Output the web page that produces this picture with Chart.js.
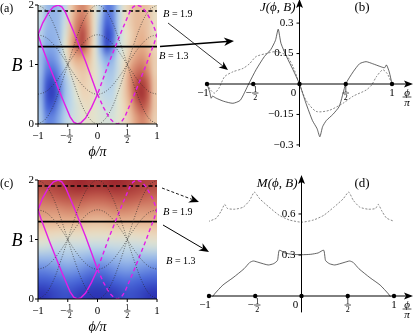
<!DOCTYPE html>
<html lang="en">
<head>
<meta charset="UTF-8">
<title>J and M maps</title>
<script src="https://cdn.jsdelivr.net/npm/chart.js"></script>
<style>
  body { margin: 0; background: #fff; }
  #wrap { position: relative; width: 415px; height: 333px; }
  #wrap canvas { position: absolute; left: 0; top: 0; }
</style>
</head>
<body>
<div id="wrap">
  <canvas id="pa" width="415" height="333"></canvas>
  <canvas id="pc" width="415" height="333"></canvas>
  <canvas id="pb" width="415" height="333"></canvas>
  <canvas id="pd" width="415" height="333"></canvas>
</div>
<script>
const W = 415, H = 333;
const SERIF = '"Liberation Serif", "DejaVu Serif", serif';

// ---- data ----
// dotted guide curves in (a) and (c)
const guidePhi = [-1, -0.875, -0.75, -0.625, -0.5, -0.375, -0.25, -0.125, 0, 0.125, 0.25, 0.375, 0.5, 0.625, 0.75, 0.875, 1];
const guideTop = [0, 0.08, 0.29, 0.62, 1, 1.38, 1.71, 1.92, 2, 1.92, 1.71, 1.38, 1, 0.62, 0.29, 0.08, 0];
const guideBottom = [2, 1.92, 1.71, 1.38, 1, 0.62, 0.29, 0.08, 0, 0.08, 0.29, 0.62, 1, 1.38, 1.71, 1.92, 2];
const guideInnerLow = [1.5, 1.46, 1.35, 1.19, 1, 0.81, 0.65, 0.54, 0.5, 0.54, 0.65, 0.81, 1, 1.19, 1.35, 1.46, 1.5];
const guideInnerHigh = [0.5, 0.54, 0.65, 0.81, 1, 1.19, 1.35, 1.46, 1.5, 1.46, 1.35, 1.19, 1, 0.81, 0.65, 0.54, 0.5];

// magenta loops
const loopSolidPhi = [0, -0.1, -0.2, -0.28, -0.34, -0.4, -0.46, -0.6, -0.8, -0.95, -1, -0.92, -0.82, -0.74, -0.66, -0.6, -0.54, -0.4, -0.2, 0];
const loopSolidB   = [0.5, 0.28, 0.1, 0.02, 0, 0.03, 0.12, 0.45, 0.95, 1.35, 1.5, 1.7, 1.88, 1.97, 2, 1.97, 1.88, 1.55, 1.05, 0.5];
const loopDashPhi  = [0, 0.1, 0.2, 0.28, 0.34, 0.4, 0.46, 0.6, 0.8, 0.95, 1, 0.92, 0.82, 0.74, 0.66, 0.6, 0.54, 0.4, 0.2, 0];
const loopDashB    = [0.5, 0.28, 0.1, 0.02, 0, 0.03, 0.12, 0.45, 0.95, 1.35, 1.5, 1.7, 1.88, 1.97, 2, 1.97, 1.88, 1.55, 1.05, 0.5];

const cutHigh = 1.9, cutLow = 1.3;

// heat map (a): rows B = 1.9 ... 0.1, columns phi = -0.95 ... 0.95, value scaled to [-1, 1]
const heatJ = [
  [-0.1, -0.3, -0.35, -0.3, -0.15, 0.2, 0.45, 0.55, 0.4, 0.05, -0.2, -0.6, -0.55, -0.2, 0.05, 0.2, 0.3, 0.3, 0.25, 0.1],
  [-0.15, -0.3, -0.35, -0.3, -0.1, 0.25, 0.55, 0.65, 0.45, 0.05, -0.3, -0.7, -0.6, -0.2, 0.05, 0.2, 0.3, 0.3, 0.25, 0.1],
  [-0.2, -0.35, -0.35, -0.3, -0.05, 0.3, 0.6, 0.8, 0.5, 0.05, -0.35, -0.85, -0.7, -0.2, 0, 0.15, 0.3, 0.35, 0.25, 0.1],
  [-0.25, -0.4, -0.4, -0.3, 0, 0.35, 0.65, 0.75, 0.45, 0.05, -0.35, -0.8, -0.6, -0.15, 0, 0.2, 0.35, 0.4, 0.3, 0.15],
  [-0.3, -0.5, -0.5, -0.35, -0.05, 0.25, 0.4, 0.4, 0.3, 0.05, -0.2, -0.4, -0.35, -0.1, 0.05, 0.3, 0.45, 0.5, 0.4, 0.2],
  [-0.3, -0.6, -0.65, -0.5, -0.2, 0.05, 0.2, 0.25, 0.2, 0.05, -0.1, -0.25, -0.25, -0.1, 0.15, 0.45, 0.6, 0.65, 0.5, 0.2],
  [-0.35, -0.75, -0.85, -0.6, -0.3, -0.1, 0.1, 0.2, 0.15, 0.05, -0.1, -0.2, -0.2, -0.05, 0.2, 0.5, 0.75, 0.85, 0.65, 0.25],
  [-0.35, -0.8, -0.9, -0.65, -0.3, -0.15, 0, 0.15, 0.15, 0.05, -0.1, -0.15, -0.15, 0, 0.2, 0.45, 0.8, 0.9, 0.7, 0.25],
  [-0.3, -0.7, -0.75, -0.5, -0.25, -0.15, -0.05, 0.05, 0.1, 0.03, -0.05, -0.1, -0.1, 0, 0.15, 0.35, 0.6, 0.75, 0.6, 0.25],
  [-0.25, -0.55, -0.55, -0.4, -0.2, -0.1, -0.05, 0, 0.05, 0.02, -0.03, -0.05, -0.05, 0, 0.1, 0.25, 0.45, 0.55, 0.45, 0.2]
];
// heat map (c): rows B = 1.9 ... 0.1, columns phi = -0.9 ... 0.9
const heatM = [
  [0.8, 0.85, 0.9, 0.95, 0.9, 0.9, 0.95, 0.9, 0.85, 0.8],
  [0.65, 0.7, 0.75, 0.75, 0.7, 0.7, 0.75, 0.75, 0.7, 0.65],
  [0.5, 0.5, 0.55, 0.55, 0.5, 0.5, 0.55, 0.55, 0.5, 0.5],
  [0.35, 0.35, 0.35, 0.35, 0.3, 0.3, 0.35, 0.35, 0.35, 0.35],
  [0.15, 0.12, 0.1, 0.1, 0.08, 0.08, 0.1, 0.1, 0.12, 0.15],
  [-0.05, -0.1, -0.1, -0.1, -0.12, -0.12, -0.1, -0.1, -0.1, -0.05],
  [-0.3, -0.3, -0.25, -0.3, -0.35, -0.35, -0.3, -0.25, -0.3, -0.3],
  [-0.55, -0.5, -0.45, -0.5, -0.6, -0.6, -0.5, -0.45, -0.5, -0.55],
  [-0.75, -0.7, -0.65, -0.7, -0.8, -0.8, -0.7, -0.65, -0.7, -0.75],
  [-0.95, -0.85, -0.8, -0.9, -0.95, -0.95, -0.9, -0.8, -0.85, -0.95]
];

// (b) current J(phi, B)
const jPhi13 = [-1, -0.97, -0.955, -0.94, -0.9, -0.82, -0.72, -0.64, -0.55, -0.47, -0.38, -0.31, -0.26, -0.23, -0.2, -0.14, -0.07, 0, 0.07, 0.14, 0.19, 0.22, 0.25, 0.29, 0.36, 0.43, 0.5, 0.58, 0.65, 0.72, 0.79, 0.88, 0.92, 0.94, 0.97, 1];
const jVal13 = [0, -0.04, -0.07, -0.06, -0.07, -0.085, -0.095, -0.08, 0, 0.07, 0.135, 0.17, 0.215, 0.27, 0.2, 0.135, 0.07, 0, -0.095, -0.18, -0.22, -0.26, -0.21, -0.18, -0.15, -0.11, 0, 0.06, 0.1, 0.11, 0.1, 0.085, 0.08, 0.094, 0.06, 0];
const jPhi19 = [-1, -0.96, -0.92, -0.87, -0.81, -0.72, -0.61, -0.54, -0.47, -0.36, -0.25, -0.14, -0.07, 0, 0.07, 0.18, 0.32, 0.47, 0.58, 0.72, 0.78, 0.83, 0.9, 0.95, 1];
const jVal19 = [0, -0.03, -0.045, -0.02, 0.036, 0.06, 0.077, 0.1, 0.135, 0.15, 0.16, 0.14, 0.085, 0, -0.08, -0.135, -0.13, -0.095, -0.06, -0.03, -0.005, 0.035, 0.07, 0.05, 0];

// (d) M(phi, B)
const mPhi13 = [-0.96, -0.94, -0.85, -0.74, -0.62, -0.56, -0.52, -0.46, -0.36, -0.3, -0.26, -0.24, -0.18, -0.1, 0, 0.1, 0.18, 0.24, 0.26, 0.3, 0.36, 0.46, 0.52, 0.56, 0.62, 0.74, 0.85, 0.94, 0.96];
const mVal13 = [-0.005, 0.015, 0.08, 0.134, 0.2, 0.245, 0.256, 0.245, 0.227, 0.237, 0.26, 0.335, 0.315, 0.305, 0.302, 0.305, 0.315, 0.335, 0.26, 0.237, 0.227, 0.245, 0.256, 0.245, 0.2, 0.134, 0.08, 0.015, -0.005];
const mPhi19 = [-1.01, -0.92, -0.87, -0.83, -0.8, -0.72, -0.63, -0.56, -0.51, -0.45, -0.35, -0.24, -0.13, 0, 0.13, 0.24, 0.35, 0.45, 0.51, 0.56, 0.63, 0.72, 0.8, 0.83, 0.87, 0.92, 1.01];
const mVal19 = [0.544, 0.57, 0.62, 0.67, 0.64, 0.635, 0.65, 0.7, 0.76, 0.71, 0.65, 0.59, 0.556, 0.54, 0.556, 0.59, 0.65, 0.71, 0.76, 0.7, 0.65, 0.635, 0.64, 0.67, 0.62, 0.57, 0.544];

// ticks
const phiTicks = [-1, -0.5, 0, 0.5, 1];
const phiTickText = ['−1', '−1/2', '0', '1/2', '1'];
const bTicks = [0, 1, 2];
const jTicks = [0.3, 0.15, -0.15, -0.3];
const jTickText = ['0.3', '0.15', '−0.15', '−0.3'];
const mTicks = [0.6, 0.3];
const mTickText = ['0.6', '0.3'];

// ---- helpers ----
const stops = [
  [-1, [40, 45, 175]], [-0.7, [70, 100, 215]], [-0.4, [135, 170, 232]], [-0.15, [190, 215, 232]],
  [0, [225, 228, 208]], [0.15, [236, 214, 186]], [0.4, [228, 170, 135]], [0.7, [195, 95, 80]], [1, [150, 30, 40]]
];
function cmap(v) {
  for (let i = 1; i < stops.length; i++) {
    if (v <= stops[i][0]) {
      const [v0, c0] = stops[i - 1], [v1, c1] = stops[i];
      const t = Math.max(0, (v - v0) / (v1 - v0));
      return c0.map((c, k) => Math.round(c + (c1[k] - c) * t));
    }
  }
  return stops[stops.length - 1][1];
}

function drawHeat(chart, grid) {
  const ctx = chart.ctx, xs = chart.scales.x, ys = chart.scales.y;
  const rows = grid.length, cols = grid[0].length;
  const off = document.createElement('canvas');
  off.width = cols; off.height = rows;
  const octx = off.getContext('2d');
  const img = octx.createImageData(cols, rows);
  grid.forEach((row, r) => row.forEach((v, c) => {
    const col = cmap(v), i = (r * cols + c) * 4;
    img.data[i] = col[0]; img.data[i + 1] = col[1]; img.data[i + 2] = col[2]; img.data[i + 3] = 255;
  }));
  octx.putImageData(img, 0, 0);
  const x0 = xs.getPixelForValue(-1), x1 = xs.getPixelForValue(1);
  const y0 = ys.getPixelForValue(2), y1 = ys.getPixelForValue(0);
  ctx.save();
  ctx.imageSmoothingEnabled = true;
  ctx.imageSmoothingQuality = 'high';
  ctx.drawImage(off, x0, y0, x1 - x0, y1 - y0);
  ctx.restore();
}

function text(ctx, s, x, y, size, align, italic) {
  ctx.font = (italic ? 'italic ' : '') + size + 'px ' + SERIF;
  ctx.textAlign = align || 'center';
  ctx.textBaseline = 'middle';
  ctx.fillStyle = '#000';
  ctx.fillText(s, x, y);
}

// "B = 1.9" style label: italic B, upright rest, starting at x
function cutLabel(ctx, value, x, y) {
  text(ctx, 'B', x, y, 10.5, 'left', true);
  ctx.font = 'italic 10.5px ' + SERIF;
  const w = ctx.measureText('B').width;
  text(ctx, ' = ' + value, x + w, y, 10, 'left', false);
}

// stacked fraction, y is the bar line
function frac(ctx, num, den, x, y, size, italic, sign) {
  ctx.fillStyle = '#000';
  ctx.font = (italic ? 'italic ' : '') + size + 'px ' + SERIF;
  ctx.textAlign = 'center';
  ctx.textBaseline = 'alphabetic';
  ctx.fillText(num, x, y - 1.5);
  ctx.fillText(den, x, y + size * 0.85);
  ctx.beginPath();
  ctx.moveTo(x - size * 0.4, y); ctx.lineTo(x + size * 0.4, y);
  ctx.lineWidth = 0.7; ctx.strokeStyle = '#000'; ctx.stroke();
  if (sign) text(ctx, '−', x - size * 0.45, y, size + 3, 'right');
}

function tickLabel(ctx, s, x, y, size) {
  if (s.includes('/')) {
    const neg = s.startsWith('−');
    const [n, d] = s.replace('−', '').split('/');
    frac(ctx, n, d, x + (neg ? 2 : 0), y, size - 3, false, neg);
  } else {
    text(ctx, s, x, y, size);
  }
}

function arrow(ctx, x0, y0, x1, y1, dash, lw, head) {
  const a = Math.atan2(y1 - y0, x1 - x0);
  ctx.save();
  ctx.strokeStyle = '#000'; ctx.fillStyle = '#000'; ctx.lineWidth = lw;
  ctx.setLineDash(dash);
  ctx.beginPath();
  ctx.moveTo(x0, y0);
  ctx.lineTo(x1 - head * 0.7 * Math.cos(a), y1 - head * 0.7 * Math.sin(a));
  ctx.stroke();
  ctx.setLineDash([]);
  const w = head * 0.42;
  ctx.beginPath();
  ctx.moveTo(x1, y1);
  ctx.lineTo(x1 - head * Math.cos(a) + w * Math.sin(a), y1 - head * Math.sin(a) - w * Math.cos(a));
  ctx.lineTo(x1 - head * 0.7 * Math.cos(a), y1 - head * 0.7 * Math.sin(a));
  ctx.lineTo(x1 - head * Math.cos(a) - w * Math.sin(a), y1 - head * Math.sin(a) + w * Math.cos(a));
  ctx.closePath();
  ctx.fill();
  ctx.restore();
}

function series(xs, ys, color, width, dash, tension) {
  return {
    data: xs.map((x, i) => ({ x: x, y: ys[i] })),
    showLine: true, borderColor: color, borderWidth: width,
    borderDash: dash || [], tension: tension || 0,
    pointRadius: 0, fill: false
  };
}

function makePanel(id, box, yMin, yMax, datasets, plugin) {
  return new Chart(document.getElementById(id), {
    type: 'scatter',
    data: { datasets: datasets },
    options: {
      responsive: false, animation: false, devicePixelRatio: 1, events: [],
      layout: { padding: { left: box[0], right: W - box[1], top: box[2], bottom: H - box[3] } },
      scales: {
        x: { type: 'linear', min: -1, max: 1, display: false },
        y: { type: 'linear', min: yMin, max: yMax, display: false }
      },
      plugins: { legend: { display: false }, tooltip: { enabled: false } }
    },
    plugins: [plugin]
  });
}

// datasets shared by the two maps
function mapDatasets() {
  const dot = 'rgba(40,40,40,0.65)';
  return [
    series(guidePhi, guideTop, dot, 1, [1, 1.6], 0.35),
    series(guidePhi, guideBottom, dot, 1, [1, 1.6], 0.35),
    series(guidePhi, guideInnerLow, dot, 1, [1, 1.6], 0.35),
    series(guidePhi, guideInnerHigh, dot, 1, [1, 1.6], 0.35),
    series(loopSolidPhi, loopSolidB, '#e21ee6', 1.4),
    series(loopDashPhi, loopDashB, '#e21ee6', 1.4, [4, 3]),
    series([-1, 1], [cutHigh, cutHigh], '#000', 1.6, [4, 2.5]),
    series([-1, 1], [cutLow, cutLow], '#000', 1.6)
  ];
}

function mapFrame(chart, tag) {
  const ctx = chart.ctx, a = chart.chartArea, xs = chart.scales.x, ys = chart.scales.y;
  ctx.save();
  ctx.strokeStyle = '#000'; ctx.lineWidth = 1;
  ctx.beginPath();
  ctx.moveTo(a.left, a.top); ctx.lineTo(a.left, a.bottom); ctx.lineTo(a.right, a.bottom);
  bTicks.forEach(v => { const y = ys.getPixelForValue(v); ctx.moveTo(a.left - 3, y); ctx.lineTo(a.left, y); });
  phiTicks.forEach(v => { const x = xs.getPixelForValue(v); ctx.moveTo(x, a.bottom); ctx.lineTo(x, a.bottom + 3); });
  ctx.stroke();
  bTicks.forEach(v => text(ctx, String(v), a.left - 4, ys.getPixelForValue(v), 11, 'right'));
  phiTicks.forEach((v, i) => tickLabel(ctx, phiTickText[i], xs.getPixelForValue(v), a.bottom + 12, 11));
  text(ctx, tag, 0, a.top + 4, 12, 'left');
  text(ctx, 'B', 17, (a.top + a.bottom) / 2 + 2, 18, 'center', true);
  text(ctx, 'ϕ/π', (a.left + a.right) / 2, a.bottom + 28, 14, 'center', true);
  ctx.restore();
}

function crossAxes(chart, ticks, tickText, title, tag, titleY, axisBottom) {
  const ctx = chart.ctx, xs = chart.scales.x, ys = chart.scales.y;
  const x0 = xs.getPixelForValue(0), y0 = ys.getPixelForValue(0);
  ctx.save();
  ctx.strokeStyle = '#000'; ctx.lineWidth = 1;
  ctx.beginPath();
  ctx.moveTo(xs.getPixelForValue(-1) - 2, y0); ctx.lineTo(408, y0);
  ctx.moveTo(x0, ys.getPixelForValue(axisBottom)); ctx.lineTo(x0, titleY);
  ticks.forEach(v => { const y = ys.getPixelForValue(v); ctx.moveTo(x0 - 3, y); ctx.lineTo(x0, y); });
  ctx.stroke();
  // arrow heads
  ctx.fillStyle = '#000';
  ctx.beginPath(); ctx.moveTo(413, y0); ctx.lineTo(404, y0 - 3.5); ctx.lineTo(406, y0); ctx.lineTo(404, y0 + 3.5); ctx.fill();
  ctx.beginPath(); ctx.moveTo(x0, titleY - 5); ctx.lineTo(x0 - 3.5, titleY + 4); ctx.lineTo(x0, titleY + 2); ctx.lineTo(x0 + 3.5, titleY + 4); ctx.fill();
  phiTicks.forEach(v => {
    ctx.beginPath(); ctx.arc(xs.getPixelForValue(v), y0, 2.2, 0, Math.PI * 2); ctx.fill();
  });
  ticks.forEach((v, i) => text(ctx, tickText[i], x0 - 6, ys.getPixelForValue(v), 11, 'right'));
  phiTicks.forEach((v, i) => {
    let x = xs.getPixelForValue(v);
    if (v === 0) x -= 6;
    if (v === -1) x -= 4;
    tickLabel(ctx, phiTickText[i], x, y0 + 9, 11);
  });
  frac(ctx, 'ϕ', 'π', 407, y0 + 13, 11, true, false);
  text(ctx, title, x0 - 4, titleY + 4, 13, 'right', true);
  text(ctx, tag, 362, titleY + 4, 13, 'center');
  ctx.restore();
}

// ---- panel (a) ----
makePanel('pa', [38, 157, 5, 124], 0, 2, mapDatasets(), {
  id: 'mapA',
  beforeDatasetsDraw(chart) { drawHeat(chart, heatJ); },
  afterDraw(chart) {
    const ctx = chart.ctx;
    mapFrame(chart, '(a)');
    cutLabel(ctx, cutHigh.toFixed(1), 163, 14);
    cutLabel(ctx, cutLow.toFixed(1), 159, 56);
    arrow(ctx, 160, 46.5, 234, 41, [], 1.3, 10);
    arrow(ctx, 168, 23, 228, 70, [], 0.8, 9);
  }
});

// ---- panel (c) ----
makePanel('pc', [38, 157, 180, 299], 0, 2, mapDatasets(), {
  id: 'mapC',
  beforeDatasetsDraw(chart) { drawHeat(chart, heatM); },
  afterDraw(chart) {
    const ctx = chart.ctx;
    mapFrame(chart, '(c)');
    cutLabel(ctx, cutHigh.toFixed(1), 163, 212);
    cutLabel(ctx, cutLow.toFixed(1), 166, 261);
    arrow(ctx, 162, 188, 199, 202, [3, 2], 0.9, 10);
    arrow(ctx, 163, 225, 209, 252, [], 1, 10);
  }
});

// ---- panel (b) ----
makePanel('pb', [207, 392, 84 - 0.4 * 203, 84 + 0.4 * 203], -0.4, 0.4, [
  series(jPhi19, jVal19, 'rgba(90,90,90,0.9)', 0.8, [2, 1.6], 0.25),
  series(jPhi13, jVal13, 'rgba(50,50,50,0.95)', 0.8, [], 0.2)
], {
  id: 'axB',
  afterDraw(chart) { crossAxes(chart, jTicks, jTickText, 'J(ϕ, B)', '(b)', 4, -0.31); }
});

// ---- panel (d) ----
makePanel('pd', [209, 394, 296 - 0.85 * 136.7, 296 + 0.15 * 136.7], -0.15, 0.85, [
  series(mPhi19, mVal19, 'rgba(90,90,90,0.9)', 0.8, [2, 1.6], 0.2),
  series(mPhi13, mVal13, 'rgba(50,50,50,0.95)', 0.8, [], 0.2)
], {
  id: 'axD',
  afterDraw(chart) { crossAxes(chart, mTicks, mTickText, 'M(ϕ, B)', '(d)', 180, -0.12); }
});
</script>
</body>
</html>
